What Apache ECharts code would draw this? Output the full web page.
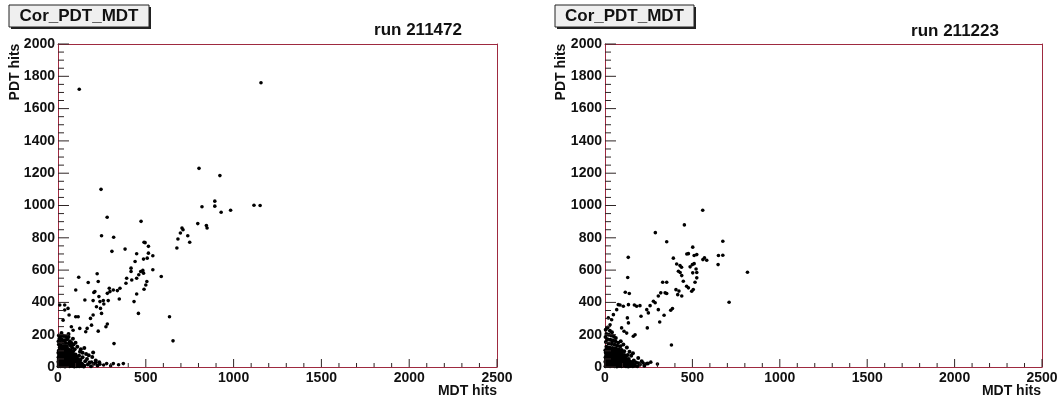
<!DOCTYPE html>
<html>
<head>
<meta charset="utf-8">
<script src="https://cdn.jsdelivr.net/npm/echarts@6/dist/echarts.min.js"></script>
<style>
html,body{margin:0;padding:0;background:#ffffff;}
#c{width:1063px;height:403px;background:#ffffff;}
</style>
</head>
<body>
<div id="c"></div>
<script>
// ---------- data (MDT hits, PDT hits) ----------
const xTicks = [0, 500, 1000, 1500, 2000, 2500];
const yTicks = [0, 200, 400, 600, 800, 1000, 1200, 1400, 1600, 1800, 2000];
const xMinorStep = 100;
const yMinorStep = 50;

const titleLeft = 'Cor_PDT_MDT';
const runLeft = 'run 211472';
const titleRight = 'Cor_PDT_MDT';
const runRight = 'run 211223';
const xName = 'MDT hits';
const yName = 'PDT hits';

// run 211472: scattered correlated points
const leftSpread = [
  [121,1720],[1156,1760],[803,1230],[922,1185],[245,1100],
  [820,992],[893,1027],[893,996],[929,958],[983,971],[1116,1002],[1151,1000],
  [280,927],[248,813],[317,803],[473,902],[706,861],[712,850],[796,888],[845,876],[849,861],
  [677,737],[683,793],[697,830],[739,813],[750,772],[382,730],[307,716],[490,772],[496,770],
  [515,747],[448,701],[515,705],[508,674],[540,689],[487,668],[439,653],[416,612],[416,591],
  [391,550],[420,539],[448,550],[460,571],[471,591],[487,581],[506,529],[540,602],[588,560],
  [483,598],[500,508],[490,481],[448,452],[433,405],[458,332],[387,519],[353,488],[315,477],
  [349,421],[338,473],[292,488],[296,467],[281,456],[286,411],[258,411],[239,405],[233,436],
  [210,467],[204,461],[229,529],[172,523],[223,577],[118,556],[101,477],[153,415],[200,411],
  [219,373],[242,363],[248,332],[261,390],[200,322],[185,301],[191,259],[166,239],[158,218],
  [124,239],[115,311],[101,311],[76,249],[86,228],[38,353],[57,363],[10,384],[38,384],[63,322],
  [29,290],[273,249],[281,266],[229,222],[319,145],[635,311],[655,162],
  [239,17],[277,21],[315,21],[372,21],[191,31],[215,28],[260,12],[300,8],[345,14]
];

// run 211472: dense low-multiplicity cluster
const leftCluster = [
  [5,195],[15,190],[30,192],[45,188],[60,185],[8,175],[22,170],[38,165],[52,172],[12,155],
  [28,150],[45,148],[62,145],[5,140],[18,132],[35,130],[50,128],[70,135],[80,120],[10,120],
  [25,118],[42,115],[58,112],[3,160],[68,160],[75,150],[88,140],[95,110],
  [3,5],[14,4],[27,6],[40,3],[53,7],[66,4],[80,6],[93,3],[107,5],[121,4],[134,6],[147,3],
  [4,18],[17,20],[30,17],[44,19],[57,18],[71,21],[84,17],[98,19],[112,18],[126,20],[139,16],
  [2,32],[15,33],[29,31],[42,34],[56,32],[69,31],[83,34],[97,32],[110,30],[124,33],
  [5,46],[18,45],[31,47],[45,46],[58,44],[72,47],[86,45],[99,46],[113,48],
  [3,60],[16,59],[30,61],[43,60],[57,62],[70,58],[84,61],[97,59],[108,63],
  [6,74],[19,73],[33,75],[46,72],[60,74],[74,76],[87,73],[100,77],
  [2,88],[15,87],[29,89],[42,86],[56,90],[69,88],[82,91],
  [5,102],[19,100],[32,103],[46,101],[60,99],[73,104],[86,98],
  [10,11],[22,12],[35,10],[48,13],[61,11],[74,12],[88,10],[101,12],[115,11],[130,12],
  [9,25],[23,26],[36,24],[50,26],[63,25],[77,27],[91,25],[104,26],[118,24],
  [8,39],[21,40],[35,38],[49,40],[62,39],[76,41],[90,39],[104,40],
  [10,53],[24,52],[37,54],[51,53],[65,52],[79,54],[92,53],
  [9,67],[23,66],[37,68],[50,67],[64,66],[78,68],[91,67],
  [11,81],[25,80],[39,82],[52,81],[66,80],[79,83],
  [9,95],[22,94],[36,96],[50,95],[64,94],
  [120,70],[128,45],[135,22],[140,60],[150,8],[155,35],[165,50],[170,15],[180,28],[188,5],
  [195,62],[205,20],[215,40],[225,10],[235,30],[125,95],[140,88],[160,80],[175,72],[200,90],
  [130,110],[150,118],[110,125],[100,150],[85,175],[60,205],[20,210]
];

// run 211223: scattered correlated points
const rightSpread = [
  [559,971],[454,880],[288,832],[353,776],[674,779],[133,679],[391,674],[502,742],[525,696],
  [477,702],[468,700],[510,690],[569,676],[582,661],[560,665],[649,690],[674,692],[647,634],
  [815,587],[710,401],[130,554],[116,463],[139,455],[330,525],[353,525],[410,638],[429,628],
  [438,618],[420,593],[430,585],[439,566],[448,531],[406,479],[423,470],[467,500],[477,490],
  [496,469],[505,480],[515,525],[525,552],[502,583],[487,620],[500,634],[510,640],[521,607],
  [525,585],[416,448],[439,440],[376,351],[386,362],[380,136],[344,459],[353,455],[319,459],
  [305,440],[305,355],[338,320],[313,279],[277,407],[287,398],[258,380],[239,355],[248,335],
  [242,242],[200,380],[206,314],[168,384],[181,376],[134,386],[128,304],[134,273],[105,376],
  [86,384],[76,386],[67,355],[48,324],[38,293],[19,304],[10,242],[29,262],[95,242],[109,221],
  [124,210],[162,190],[172,200],[40,153],[191,25],[219,25],[238,21],[300,18],[262,30]
];

// run 211223: dense low-multiplicity cluster
const rightCluster = [
  [4,230],[15,245],[28,225],[40,215],[8,205],[22,200],[36,195],[50,190],[62,180],[3,185],
  [14,172],[30,168],[46,165],[60,160],[75,150],[5,155],[20,145],[38,142],[55,138],[70,132],
  [88,128],[8,125],[25,120],[42,118],[60,115],[78,110],[95,105],[110,98],
  [3,5],[16,6],[29,4],[42,7],[55,5],[68,3],[81,6],[94,4],[107,7],[120,5],[133,3],[146,6],[159,4],[172,7],[185,5],
  [5,19],[18,18],[31,20],[44,17],[57,21],[70,19],[83,18],[96,20],[109,17],[122,21],[135,19],[148,18],[161,20],
  [2,33],[15,32],[28,34],[41,31],[54,33],[67,35],[80,32],[93,34],[106,31],[119,33],[132,35],[145,32],
  [6,47],[19,46],[32,48],[45,45],[58,47],[71,49],[84,46],[97,48],[110,45],[123,47],[136,50],
  [3,61],[16,60],[29,62],[42,59],[55,63],[68,61],[81,60],[94,62],[107,59],[120,63],
  [7,75],[20,74],[33,76],[46,73],[59,77],[72,75],[85,74],[98,78],[111,74],
  [4,89],[17,88],[30,90],[43,87],[56,91],[69,89],[82,92],[95,88],
  [2,103],[15,102],[28,104],[41,101],[54,105],[67,103],[80,106],
  [10,12],[23,11],[36,13],[49,12],[62,10],[75,13],[88,11],[101,12],[114,10],[127,13],[140,11],[153,12],[166,10],
  [9,26],[22,25],[36,27],[49,26],[62,24],[75,27],[89,25],[102,26],[115,25],[128,27],[141,25],[154,26],
  [8,40],[21,39],[35,41],[48,40],[61,38],[75,41],[88,40],[101,39],[114,41],[127,40],
  [10,54],[24,53],[37,55],[51,54],[64,52],[78,55],[91,54],[104,53],[116,55],
  [9,68],[23,67],[36,69],[50,68],[64,66],[77,69],[90,68],[103,67],
  [11,82],[25,81],[38,83],[52,82],[66,80],[79,83],[92,81],
  [9,96],[23,95],[37,97],[50,96],[63,94],[76,97],
  [10,110],[24,109],[37,111],[51,112],[65,109],
  [165,40],[178,28],[190,55],[200,15],[210,35],[150,70],[160,85],[140,95],[125,120],[105,140],
  [90,160],[130,75],[225,8],[245,22]
];

// ---------- chart ----------
const chart = echarts.init(document.getElementById('c'));
const FONT = '"Liberation Sans", Arial, sans-serif';
const frameColor = '#9e2a40';
const tickColor = '#2e2424';

function xAx(gi) {
  return {
    gridIndex: gi, type: 'value', min: 0, max: 2500, interval: 500,
    axisLine: {show: true, onZero: false, lineStyle: {color: frameColor, width: 1}},
    axisTick: {show: false}, minorTick: {show: false},
    axisLabel: {
      fontFamily: FONT, fontWeight: 'bold', fontSize: 14, color: '#111', margin: 4,
      formatter: v => xTicks.includes(v) ? String(v) : ''
    },
    splitLine: {show: false}
  };
}
function yAx(gi) {
  return {
    gridIndex: gi, type: 'value', min: 0, max: 2000, interval: 200,
    axisLine: {show: true, onZero: false, lineStyle: {color: frameColor, width: 1}},
    axisTick: {show: false}, minorTick: {show: false},
    axisLabel: {
      fontFamily: FONT, fontWeight: 'bold', fontSize: 14, color: '#111', margin: 3,
      formatter: v => yTicks.includes(v) ? String(v) : ''
    },
    splitLine: {show: false}
  };
}
function frameAx(gi, pos, isX) {
  return {
    gridIndex: gi, type: 'value', position: pos, min: 0, max: isX ? 2500 : 2000,
    axisLine: {show: true, onZero: false, lineStyle: {color: frameColor, width: 1}},
    axisTick: {show: false}, minorTick: {show: false}, axisLabel: {show: false}, splitLine: {show: false}
  };
}
function pts(data, gi, size) {
  return {
    type: 'scatter', xAxisIndex: gi, yAxisIndex: gi, data: data,
    symbol: 'circle', symbolSize: size, silent: true,
    itemStyle: {color: '#000', opacity: 1}
  };
}

// ROOT-style inward tick marks, placed on the axes through the library's own scales
function tickSeries(gi) {
  const items = [];
  const xMax = xTicks[xTicks.length - 1], yMax = yTicks[yTicks.length - 1];
  for (let v = 0; v <= xMax; v += xMinorStep) {
    const len = xTicks.includes(v) ? 8 : 4;
    items.push({value: [v, 0], symbolSize: [1, len], symbolOffset: [0, -len / 2]});
  }
  for (let v = 0; v <= yMax; v += yMinorStep) {
    const len = yTicks.includes(v) ? 11 : 6;
    items.push({value: [0, v], symbolSize: [len, 1], symbolOffset: [len / 2, 0]});
  }
  return {
    type: 'scatter', xAxisIndex: gi, yAxisIndex: gi, data: items,
    symbol: 'rect', silent: true, clip: false, z: 4,
    itemStyle: {color: tickColor, opacity: 1}
  };
}

function titleBox(x, w, label) {
  return [
    {type: 'rect', shape: {x: x + 2, y: 7, width: w, height: 22}, style: {fill: '#222'}, z: 10},
    {type: 'rect', shape: {x: x, y: 5, width: w, height: 22}, style: {fill: '#efefef', stroke: '#222', lineWidth: 1}, z: 11},
    {type: 'text', x: x + w / 2, y: 16, z: 12,
     style: {text: label, font: 'bold 17px ' + FONT, fill: '#111', textAlign: 'center', textVerticalAlign: 'middle'}}
  ];
}
function txt(x, y, s, size, align, rot) {
  return {type: 'text', x: x, y: y, rotation: rot || 0, z: 12,
    style: {text: s, font: 'bold ' + size + 'px ' + FONT, fill: '#111', textAlign: align, textVerticalAlign: 'middle'}};
}

chart.setOption({
  animation: false,
  grid: [
    {left: 58, top: 44, width: 439, height: 323, outerBoundsMode: 'none'},
    {left: 605, top: 44, width: 437, height: 323, outerBoundsMode: 'none'}
  ],
  xAxis: [xAx(0), xAx(1), frameAx(0, 'top', true), frameAx(1, 'top', true)],
  yAxis: [yAx(0), yAx(1), frameAx(0, 'right', false), frameAx(1, 'right', false)],
  series: [
    pts(leftCluster, 0, 4), pts(leftSpread, 0, 3.6),
    pts(rightCluster, 1, 4), pts(rightSpread, 1, 3.6),
    tickSeries(0), tickSeries(1)
  ],
  graphic: [
    ...titleBox(9, 140, titleLeft),
    ...titleBox(555, 139, titleRight),
    txt(418, 30, runLeft, 17, 'center'),
    txt(955, 31, runRight, 17, 'center'),
    txt(15, 72, yName, 14, 'center', Math.PI / 2),
    txt(561, 72, yName, 14, 'center', Math.PI / 2),
    txt(497, 391, xName, 14, 'right'),
    txt(1041, 391, xName, 14, 'right')
  ]
});
</script>
</body>
</html>
